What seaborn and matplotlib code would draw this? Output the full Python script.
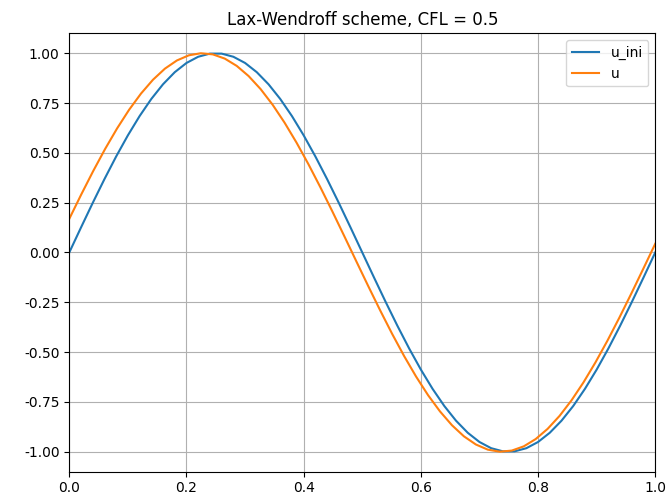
import numpy as np
import pandas as pd
import matplotlib
matplotlib.use("Agg")
import matplotlib.pyplot as plt
import seaborn as sns

title = "Lax-Wendroff scheme, CFL = 0.5"

# initial condition, 51 grid points on [0, 1]
u_ini_half = [0.0, 0.1253, 0.2487, 0.3681, 0.4818, 0.5878, 0.6845, 0.7705,
              0.8443, 0.9048, 0.9511, 0.9823, 0.9980, 0.9980, 0.9823, 0.9511,
              0.9048, 0.8443, 0.7705, 0.6845, 0.5878, 0.4818, 0.3681, 0.2487,
              0.1253]
u_ini = u_ini_half + [0.0] + [-v for v in u_ini_half[1:]] + [0.0]

# numerical solution, 50 values
u_half = [0.1688, 0.2910, 0.4087, 0.5199, 0.6228, 0.7160, 0.7977, 0.8670,
          0.9227, 0.9637, 0.9896, 0.9998, 0.9943, 0.9731, 0.9365, 0.8852,
          0.8200, 0.7418, 0.6518, 0.5516, 0.4428, 0.3269, 0.2059, 0.0816,
          -0.0440]
u = u_half + [-v for v in u_half]

x_ini = np.linspace(0, 1, len(u_ini))
x_u = np.linspace(0, 1, len(u))

df_ini = pd.DataFrame({"x": x_ini, "y": u_ini})
df_u = pd.DataFrame({"x": x_u, "y": u})

fig = plt.figure(figsize=(6.7, 4.97), dpi=100)
ax = fig.add_axes([0.1034, 0.051, 0.978 - 0.1034, 0.933 - 0.051])
sns.lineplot(data=df_ini, x="x", y="y", ax=ax, color="#1f77b4", label="u_ini", sort=False, linewidth=1.5)
sns.lineplot(data=df_u, x="x", y="y", ax=ax, color="#ff7f0e", label="u", sort=False, linewidth=1.5)
ax.set_xlim(0, 1)
ax.set_ylim(-1.1, 1.1)
ax.set_yticks([-1.0, -0.75, -0.5, -0.25, 0.0, 0.25, 0.5, 0.75, 1.0])
ax.yaxis.set_major_formatter(matplotlib.ticker.FormatStrFormatter("%.2f"))
ax.set_xlabel("")
ax.set_ylabel("")
ax.grid(True)
ax.set_title(title, fontsize=12)
ax.legend(loc="upper right")
fig.savefig("out.png", dpi=100)
